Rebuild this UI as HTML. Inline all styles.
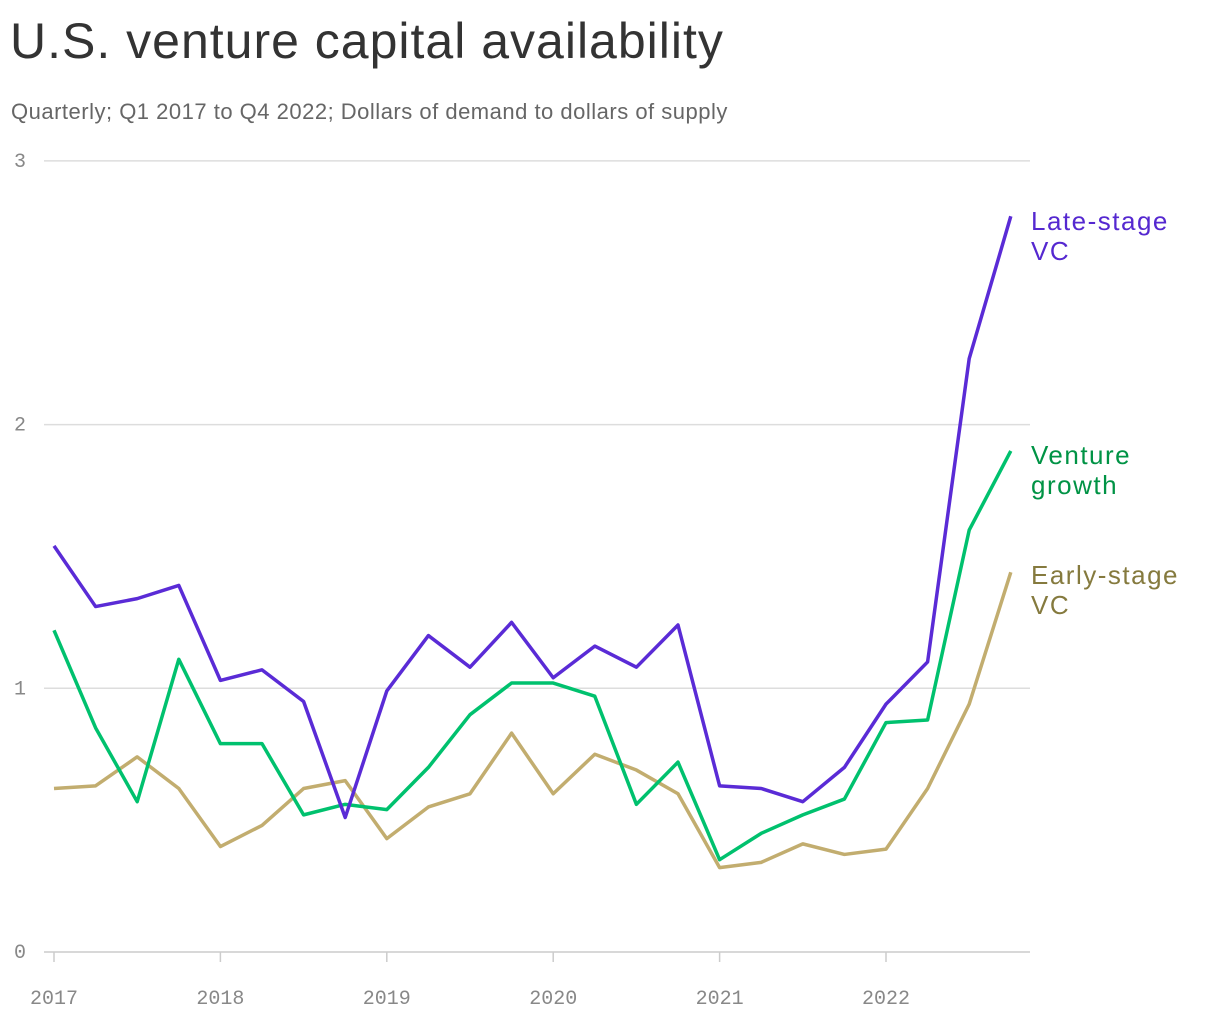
<!DOCTYPE html>
<html><head><meta charset="utf-8">
<style>
body{margin:0;background:#fff;width:1220px;height:1020px;overflow:hidden;font-family:"Liberation Sans",sans-serif;}
#title{position:absolute;left:10px;top:12px;font-size:50px;color:#333;letter-spacing:1px;margin:0;font-weight:normal}
#sub{position:absolute;left:11px;top:99px;font-size:22px;color:#666;margin:0;letter-spacing:0.5px}
svg{position:absolute;left:0;top:0}
</style></head><body>
<h1 id="title">U.S. venture capital availability</h1>
<p id="sub">Quarterly; Q1 2017 to Q4 2022; Dollars of demand to dollars of supply</p>
<svg id="chart" width="1220" height="1020"></svg>
<script>
const lateStage=[1.54,1.31,1.34,1.39,1.03,1.07,0.95,0.51,0.99,1.20,1.08,1.25,1.04,1.16,1.08,1.24,0.63,0.62,0.57,0.70,0.94,1.10,2.25,2.79];
const ventureGrowth=[1.22,0.85,0.57,1.11,0.79,0.79,0.52,0.56,0.54,0.70,0.90,1.02,1.02,0.97,0.56,0.72,0.35,0.45,0.52,0.58,0.87,0.88,1.60,1.90];
const earlyStage=[0.62,0.63,0.74,0.62,0.40,0.48,0.62,0.65,0.43,0.55,0.60,0.83,0.60,0.75,0.69,0.60,0.32,0.34,0.41,0.37,0.39,0.62,0.94,1.44];
const yTicks=[0,1,2,3];
const xTickYears=[2017,2018,2019,2020,2021,2022];
const NS="http://www.w3.org/2000/svg";
const svg=document.getElementById('chart');
const y=v=>952-v*263.7;
const x=q=>54+q*41.6;
function mk(t,a){const e=document.createElementNS(NS,t);for(const k in a)e.setAttribute(k,a[k]);svg.appendChild(e);return e;}
yTicks.forEach(v=>{
  const l=mk('line',{x1:44,x2:1030,y1:y(v),y2:y(v),stroke:v===0?'#ccc':'#ddd','stroke-width':1.5});
  
  
  const t=mk('text',{x:14,y:y(v)+6,'font-family':'Liberation Mono, monospace','font-size':20,fill:'#888'});
  t.textContent=v;
  
  
});
xTickYears.forEach((yr,i)=>{
  const xx=x(i*4);
  const l=mk('line',{x1:xx,x2:xx,y1:952,y2:962,stroke:'#ccc','stroke-width':1.5});
  
  
  const t=mk('text',{x:xx,y:1004,'text-anchor':'middle','font-family':'Liberation Mono, monospace','font-size':20,fill:'#888'});
  t.textContent=yr;
  
  
});
function series(data,color,name){
  const p=mk('polyline',{points:data.map((v,i)=>x(i)+','+y(v)).join(' '),fill:'none',stroke:color,'stroke-width':3.5,'stroke-linejoin':'round'});
  
  
}
series(earlyStage,'#c2ad6f','early-stage-line');
series(ventureGrowth,'#00c16e','venture-growth-line');
series(lateStage,'#5a2bd6','late-stage-line');
function label(lines,color,top,name){
  const t=mk('text',{x:1031,y:top,'font-size':26,fill:color,'letter-spacing':1.5});
  lines.forEach((s,i)=>{const ts=document.createElementNS(NS,'tspan');ts.setAttribute('x',1031);ts.setAttribute('dy',i?30:0);ts.textContent=s;t.appendChild(ts);});
  
  
}
label(['Late-stage','VC'],'#5528d0',230,'late-stage-label');
label(['Venture','growth'],'#009345',464,'venture-growth-label');
label(['Early-stage','VC'],'#857a3e',584,'early-stage-label');
</script>
</body></html>
